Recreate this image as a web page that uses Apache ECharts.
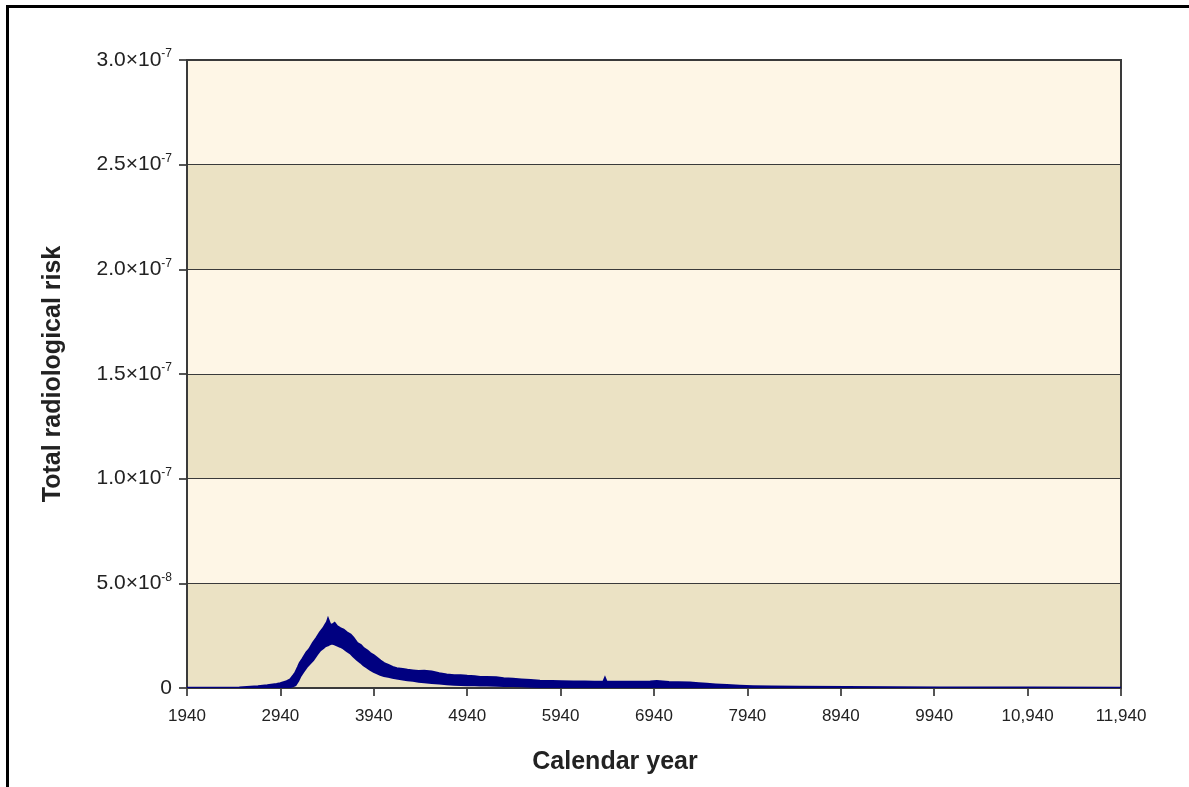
<!DOCTYPE html>
<html>
<head>
<meta charset="utf-8">
<script src="https://cdn.jsdelivr.net/npm/echarts@6/dist/echarts.min.js"></script>
<style>
html,body{margin:0;padding:0;background:#fff;}
#frame{position:absolute;left:6px;top:5px;width:1200px;height:800px;border-top:3px solid #000;border-left:3px solid #000;box-sizing:border-box;pointer-events:none;z-index:5;}
#chart{position:absolute;left:0;top:0;width:1189px;height:787px;}
</style>
</head>
<body>
<div id="chart"></div>
<div id="frame"></div>
<script>
// Calendar years of the readings
const years = [1940, 2500, 2700, 2800, 2900, 2940, 3000, 3045, 3080, 3100, 3130, 3150, 3180, 3220, 3250, 3290, 3330, 3365, 3400, 3420, 3440, 3450, 3470, 3490, 3520, 3545, 3580, 3615, 3650, 3690, 3720, 3760, 3800, 3830, 3870, 3900, 3940, 3970, 4010, 4050, 4095, 4140, 4185, 4250, 4300, 4360, 4420, 4480, 4560, 4640, 4720, 4800, 4870, 4940, 5020, 5080, 5150, 5250, 5330, 5430, 5520, 5620, 5720, 5850, 5950, 6075, 6200, 6300, 6400, 6415, 6430, 6550, 6650, 6790, 6900, 6970, 7100, 7200, 7325, 7420, 7505, 7600, 7720, 7860, 8000, 8200, 8500, 9000, 9500, 10000, 11000, 11940];
// Upper envelope of the noisy risk trace (units of 1e-8)
const riskUpper = [0, 0.02, 0.08, 0.12, 0.18, 0.22, 0.3, 0.4, 0.6, 0.72, 1.0, 1.2, 1.4, 1.7, 1.85, 2.15, 2.4, 2.65, 2.85, 3.0, 3.15, 3.28, 3.05, 3.0, 3.1, 2.95, 2.85, 2.78, 2.65, 2.55, 2.4, 2.15, 2.05, 1.9, 1.78, 1.66, 1.55, 1.45, 1.3, 1.18, 1.1, 1.0, 0.94, 0.9, 0.86, 0.83, 0.8, 0.82, 0.78, 0.7, 0.64, 0.6, 0.6, 0.57, 0.55, 0.52, 0.51, 0.5, 0.46, 0.43, 0.4, 0.37, 0.34, 0.32, 0.31, 0.3, 0.3, 0.29, 0.3, 0.46, 0.3, 0.29, 0.29, 0.29, 0.3, 0.32, 0.28, 0.27, 0.25, 0.22, 0.19, 0.16, 0.13, 0.1, 0.08, 0.06, 0.05, 0.04, 0.03, 0.02, 0.01, 0];
// Lower envelope of the noisy risk trace (units of 1e-8)
const riskLower = [0, 0, 0, 0, 0, 0, 0.02, 0.05, 0.1, 0.14, 0.35, 0.54, 0.75, 1.0, 1.15, 1.34, 1.6, 1.8, 1.92, 2.0, 2.04, 2.05, 2.1, 2.13, 2.1, 2.05, 1.98, 1.9, 1.78, 1.66, 1.52, 1.36, 1.22, 1.1, 0.98, 0.88, 0.78, 0.72, 0.64, 0.58, 0.54, 0.5, 0.46, 0.42, 0.38, 0.35, 0.31, 0.28, 0.25, 0.22, 0.19, 0.17, 0.15, 0.14, 0.14, 0.13, 0.13, 0.12, 0.11, 0.1, 0.09, 0.07, 0.06, 0.05, 0.05, 0.05, 0.05, 0.04, 0.04, 0.04, 0.04, 0.04, 0.04, 0.04, 0.04, 0.04, 0.03, 0.03, 0.03, 0.03, 0.02, 0.02, 0.02, 0.01, 0.01, 0, 0, 0, 0, 0, 0, 0];
// Tick values
const xTicks = [1940, 2940, 3940, 4940, 5940, 6940, 7940, 8940, 9940, 10940, 11940];
const yTicks = [0, 5, 10, 15, 20, 25, 30]; // units of 1e-8

const FONT = '"Liberation Sans", Arial, sans-serif';
const chart = echarts.init(document.getElementById('chart'), null, {renderer: 'canvas'});

function yLabel(v) {
  if (v === 0) return '{m|0}';
  const s = (v * 1e-8).toExponential(1); // e.g. "5.0e-8"
  const parts = s.split('e');
  return '{m|' + parts[0] + '×10}{e|' + parts[1] + '}';
}
function xLabel(v) {
  return v >= 10000 ? String(v).replace(/(\d)(?=(\d{3})+$)/g, '$1,') : String(v);
}

const bandData = years.map((y, i) => [y, riskUpper[i], riskLower[i]]);

chart.setOption({
  animation: false,
  backgroundColor: '#fff',
  grid: {left: 187, right: 68, top: 60, bottom: 99, show: true, borderColor: '#3a3a3a', borderWidth: 2, backgroundColor: 'transparent', z: 3},
  graphic: {
    elements: [{
      type: 'text', x: 615, y: 762, z: 10,
      style: {text: 'Calendar year', align: 'center', verticalAlign: 'middle',
        fontFamily: FONT, fontWeight: 'bold', fontSize: 25, fill: '#222'}
    }]
  },
  xAxis: {
    type: 'value', min: 1940, max: 11940,
    axisLine: {show: true, lineStyle: {color: '#3a3a3a', width: 2}},
    axisTick: {show: true, customValues: xTicks, length: 8, lineStyle: {color: '#555', width: 2}},
    axisLabel: {customValues: xTicks, formatter: xLabel, fontFamily: FONT, fontSize: 17, color: '#222', margin: 20},
    splitLine: {show: false}
  },
  yAxis: {
    type: 'value', min: 0, max: 30, interval: 5,
    name: 'Total radiological risk', nameLocation: 'middle', nameGap: 121, nameRotate: 90,
    nameTextStyle: {fontFamily: FONT, fontWeight: 'bold', fontSize: 25, color: '#222'},
    axisLine: {show: true, lineStyle: {color: '#3a3a3a', width: 2}},
    axisTick: {show: true, length: 8, lineStyle: {color: '#555', width: 2}},
    axisLabel: {
      formatter: yLabel, margin: 15,
      rich: {
        m: {fontFamily: FONT, fontSize: 21, color: '#222'},
        e: {fontFamily: FONT, fontSize: 12, color: '#222', padding: [0, 0, 12, 0]}
      }
    },
    splitLine: {show: true, lineStyle: {color: '#3a3a3a', width: 1}},
    splitArea: {show: true, areaStyle: {color: ['#EBE2C4', '#FEF6E6']}}
  },
  series: [{
    type: 'custom',
    name: 'Total radiological risk',
    data: bandData,
    encode: {x: 0, y: [1, 2]},
    clip: true,
    renderItem: function (params, api) {
      if (params.dataIndex !== 0) return null;
      const pts = [];
      for (let i = 0; i < years.length; i++) pts.push(api.coord([years[i], riskUpper[i]]));
      for (let i = years.length - 1; i >= 0; i--) pts.push(api.coord([years[i], riskLower[i]]));
      return {
        type: 'polygon',
        shape: {points: pts},
        style: {fill: '#000080', stroke: '#000080', lineWidth: 2.4, lineJoin: 'miter'}
      };
    },
    z: 4
  }]
});
</script>
</body>
</html>
